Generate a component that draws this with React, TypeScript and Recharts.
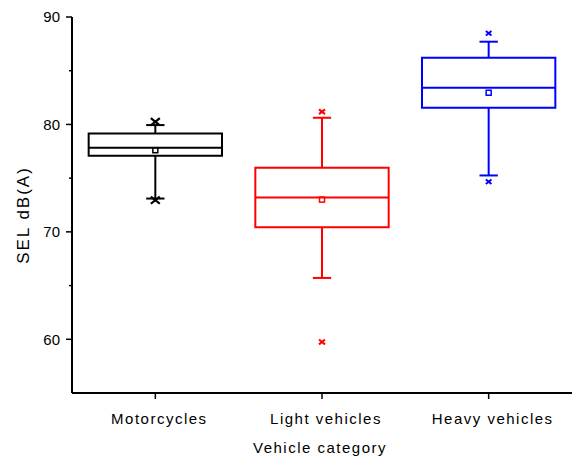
import React from 'react';
import { ComposedChart, XAxis, YAxis, ReferenceArea, ReferenceLine, Scatter } from 'recharts';

const categories = ['Motorcycles', 'Light vehicles', 'Heavy vehicles'];
const q1 = [77.08, 70.43, 81.55];
const median = [77.82, 73.2, 83.41];
const q3 = [79.16, 75.96, 86.2];
const whiskerLow = [73.1, 65.71, 75.25];
const whiskerHigh = [79.94, 80.62, 87.7];
const mean = [77.6, 73.0, 82.95];
const upperMarker = [80.25, 81.18, 88.48];
const lowerMarker = [72.95, 59.75, 74.66];
const yTicks = [60, 65, 70, 75, 80, 85, 90];
const yMajorTicks = [60, 70, 80, 90];
const xTicks = [1, 2, 3];

const COLORS = ['#000000', '#ff0000', '#0000ff'];
const CROSS_HALF = [4.5, 3, 2.8];
const CROSS_WIDTH = [2.2, 2, 2];
const BOX_HALF = 0.4;
const CAP_HALF = 0.055;
const FONT = '"Liberation Sans", Arial, Helvetica, sans-serif';

const pos = (i: number) => i + 1;

const meanData = categories.map((c, i) => ({ x: pos(i), y: mean[i], idx: i }));
const markerData = categories.flatMap((c, i) => [
  { x: pos(i), y: upperMarker[i], idx: i },
  { x: pos(i), y: lowerMarker[i], idx: i },
]);

const YTick = (props: any) => {
  const { x, y, payload } = props;
  const major = yMajorTicks.includes(payload.value);
  return (
    <g>
      <line x1={x - (major ? 6 : 3)} x2={x} y1={y} y2={y} stroke="#000" strokeWidth={1.5} />
      {major && (
        <text x={x - 12} y={y} dy="0.35em" textAnchor="end" fontSize={15} fontFamily={FONT} fill="#000">
          {payload.value}
        </text>
      )}
    </g>
  );
};

const XTick = (props: any) => {
  const { x, y, payload } = props;
  const label = categories[payload.value - 1];
  return (
    <text x={x + 4} y={y} dy={23} textAnchor="middle" fontSize={15} fontFamily={FONT} fill="#000" style={{ letterSpacing: '1.5px' }}>
      {label}
    </text>
  );
};

const MeanShape = (props: any) => {
  const { cx, cy, payload } = props;
  const c = COLORS[payload.idx];
  return <rect x={cx - 2.5} y={cy - 2.5} width={5} height={5} fill="none" stroke={c} strokeWidth={1.5} />;
};

const CrossShape = (props: any) => {
  const { cx, cy, payload } = props;
  const c = COLORS[payload.idx];
  const h = CROSS_HALF[payload.idx];
  const w = CROSS_WIDTH[payload.idx];
  const v = h * 0.8;
  return (
    <g>
      <line x1={cx - h} y1={cy - v} x2={cx + h} y2={cy + v} stroke={c} strokeWidth={w} />
      <line x1={cx - h} y1={cy + v} x2={cx + h} y2={cy - v} stroke={c} strokeWidth={w} />
    </g>
  );
};

export default function App() {
  return (
    <div style={{ position: 'absolute', left: 0, top: 0 }}>
      <ComposedChart width={572} height={457} margin={{ top: 17, right: 0, bottom: 0, left: 0 }}>
        <XAxis
          type="number"
          dataKey="x"
          domain={[0.5, 3.5]}
          ticks={xTicks}
          allowDataOverflow
          height={64}
          axisLine={{ stroke: '#000', strokeWidth: 2 }}
          tickLine={{ stroke: '#000', strokeWidth: 1.5 }}
          tickSize={6}
          tick={<XTick />}
          label={{
            content: (p: any) => {
              const vb = p.viewBox;
              return (
                <text x={vb.x + vb.width / 2 - 2} y={453} textAnchor="middle" fontSize={15} fontFamily={FONT} fill="#000" style={{ letterSpacing: '1.5px' }}>
                  Vehicle category
                </text>
              );
            },
          }}
        />
        <YAxis
          type="number"
          domain={[55, 90]}
          ticks={yTicks}
          allowDataOverflow
          width={72}
          axisLine={{ stroke: '#000', strokeWidth: 2 }}
          tickLine={false}
          tickSize={0}
          tickMargin={0}
          tick={<YTick />}
          label={{
            content: (p: any) => {
              const vb = p.viewBox;
              const cx = 23;
              const cy = vb.y + vb.height / 2 + 10;
              return (
                <text x={cx} y={cy} dy="0.35em" transform={`rotate(-90 ${cx} ${cy})`} textAnchor="middle" fontSize={17} fontFamily={FONT} fill="#000" style={{ letterSpacing: '2px' }}>
                  SEL dB(A)
                </text>
              );
            },
          }}
        />
        {categories.map((c, i) => (
          <ReferenceArea
            key={`box-${i}`}
            x1={pos(i) - BOX_HALF}
            x2={pos(i) + BOX_HALF}
            y1={q1[i]}
            y2={q3[i]}
            fill="none"
            fillOpacity={0}
            stroke={COLORS[i]}
            strokeWidth={2}
            strokeOpacity={1}
          />
        ))}
        {categories.map((c, i) => (
          <ReferenceLine
            key={`med-${i}`}
            segment={[{ x: pos(i) - BOX_HALF, y: median[i] }, { x: pos(i) + BOX_HALF, y: median[i] }]}
            stroke={COLORS[i]}
            strokeWidth={2}
          />
        ))}
        {categories.map((c, i) => (
          <ReferenceLine
            key={`wh-${i}`}
            segment={[{ x: pos(i), y: q3[i] }, { x: pos(i), y: whiskerHigh[i] }]}
            stroke={COLORS[i]}
            strokeWidth={2}
          />
        ))}
        {categories.map((c, i) => (
          <ReferenceLine
            key={`wl-${i}`}
            segment={[{ x: pos(i), y: whiskerLow[i] }, { x: pos(i), y: q1[i] }]}
            stroke={COLORS[i]}
            strokeWidth={2}
          />
        ))}
        {categories.map((c, i) => (
          <ReferenceLine
            key={`ch-${i}`}
            segment={[{ x: pos(i) - CAP_HALF, y: whiskerHigh[i] }, { x: pos(i) + CAP_HALF, y: whiskerHigh[i] }]}
            stroke={COLORS[i]}
            strokeWidth={2}
          />
        ))}
        {categories.map((c, i) => (
          <ReferenceLine
            key={`cl-${i}`}
            segment={[{ x: pos(i) - CAP_HALF, y: whiskerLow[i] }, { x: pos(i) + CAP_HALF, y: whiskerLow[i] }]}
            stroke={COLORS[i]}
            strokeWidth={2}
          />
        ))}
        <Scatter data={meanData} dataKey="y" shape={<MeanShape />} isAnimationActive={false} />
        <Scatter data={markerData} dataKey="y" shape={<CrossShape />} isAnimationActive={false} />
      </ComposedChart>
    </div>
  );
}
